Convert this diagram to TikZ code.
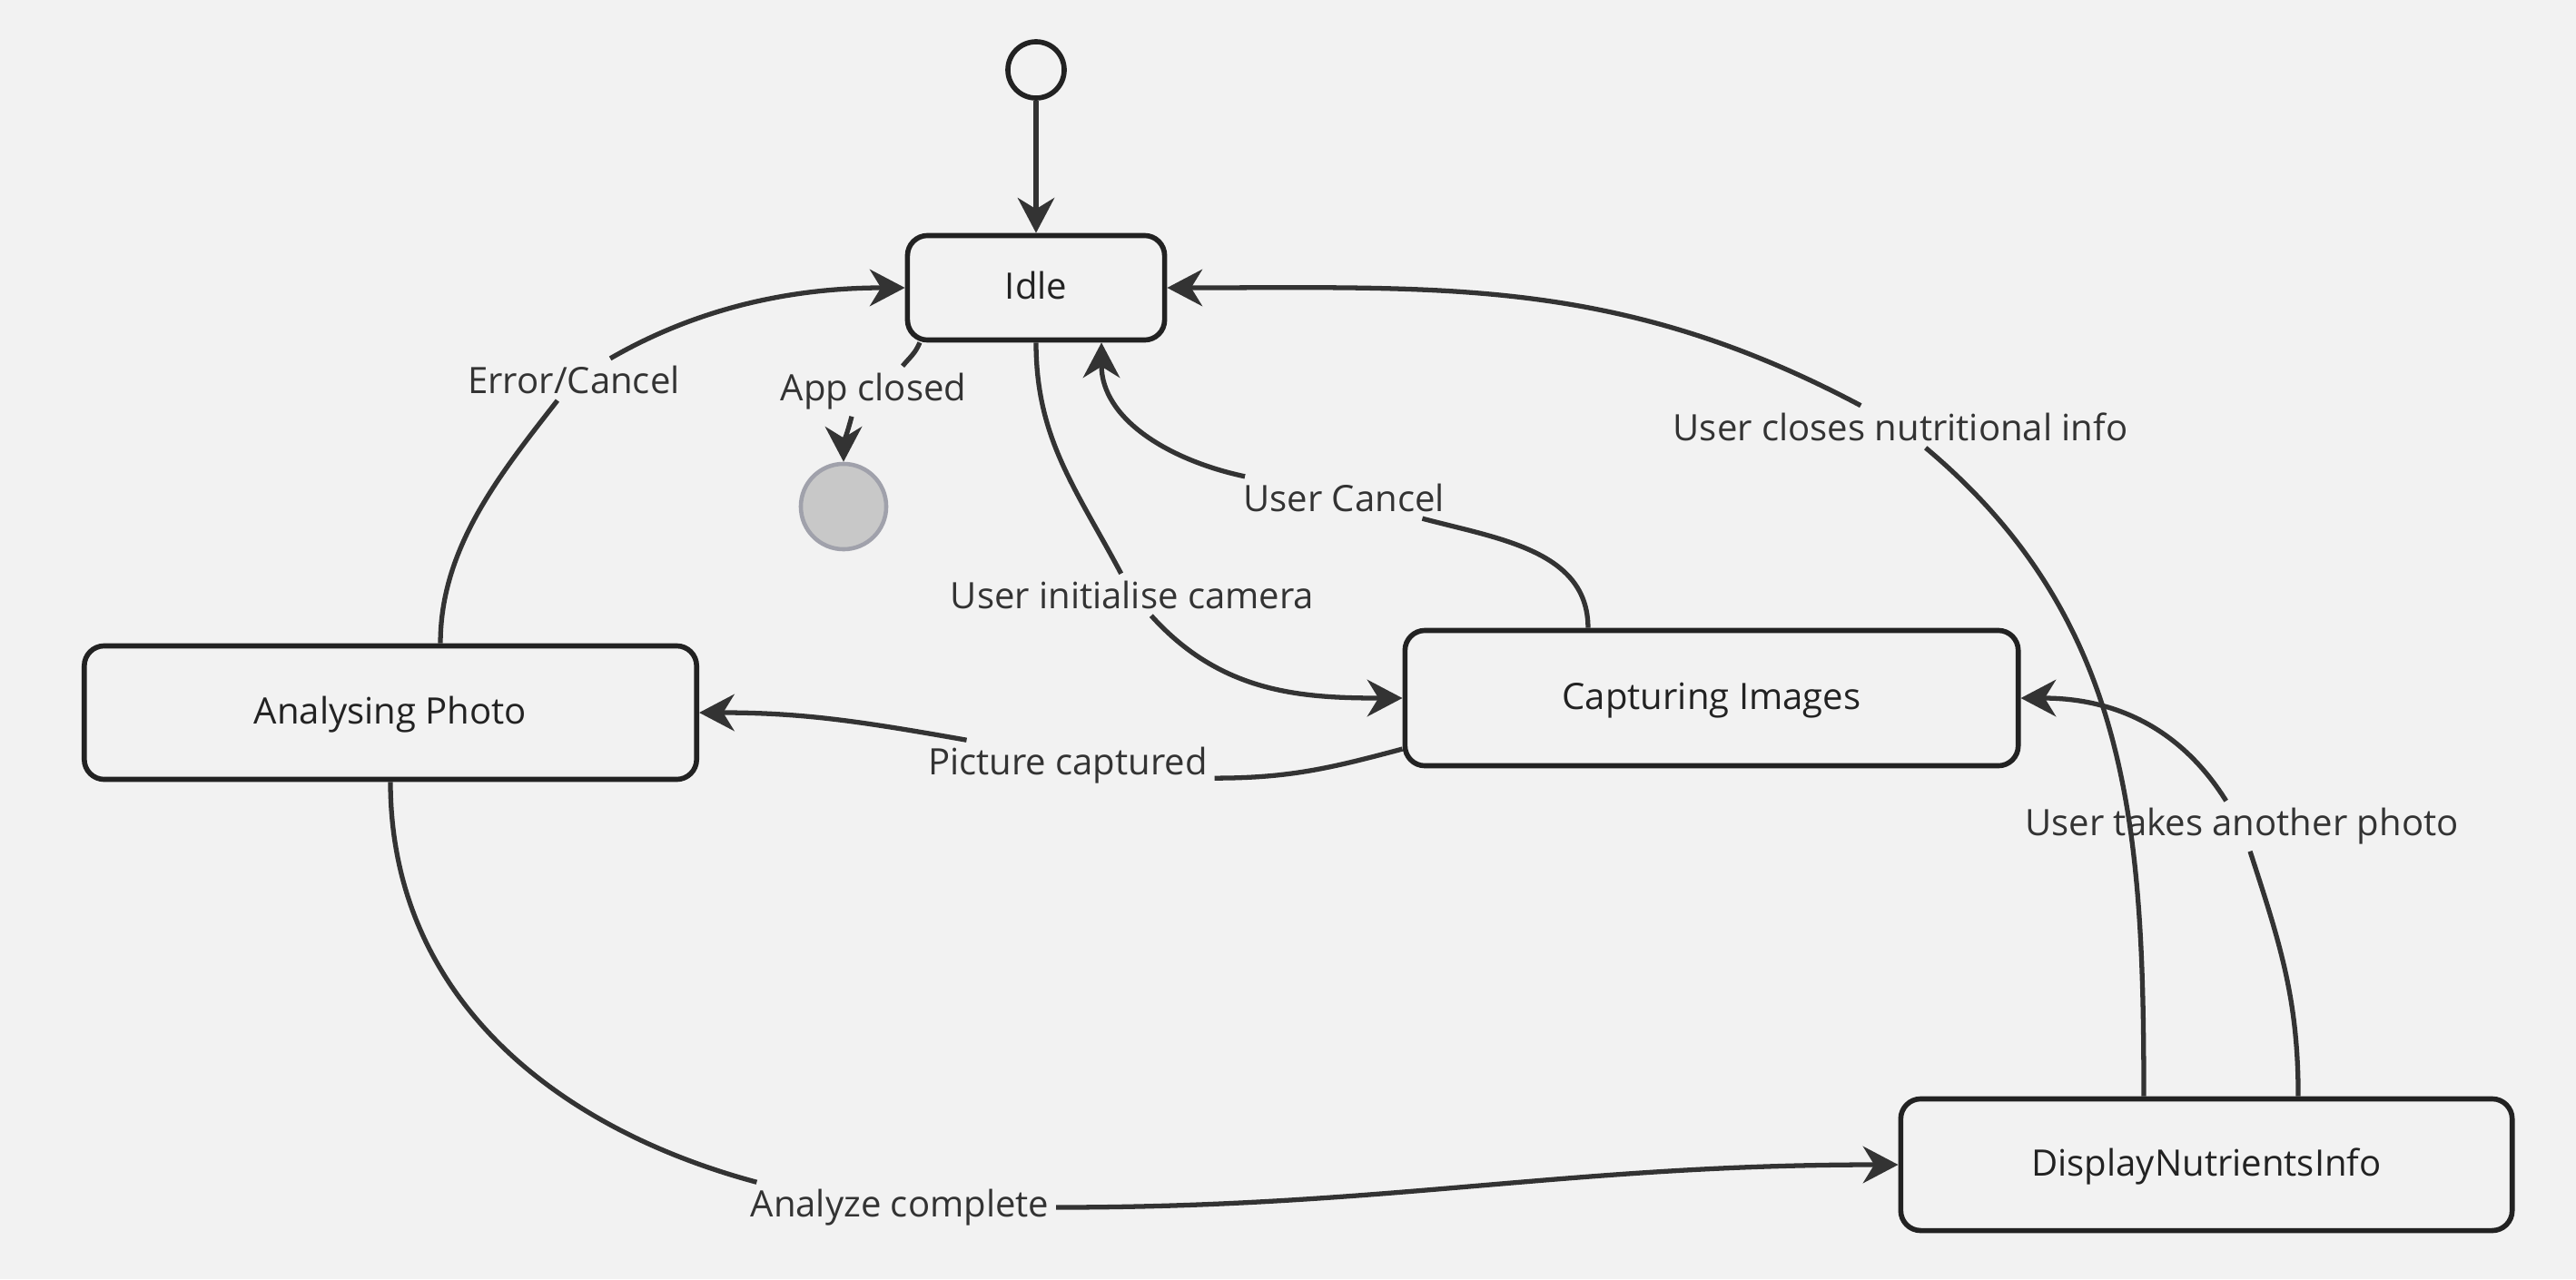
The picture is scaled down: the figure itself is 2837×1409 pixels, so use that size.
\documentclass[tikz,border=0pt]{standalone}
\usepackage{fontspec}
\setmainfont{Open Sans}
\usetikzlibrary{arrows.meta}
\definecolor{bg}{HTML}{F2F2F2}
\definecolor{edgec}{HTML}{333333}
\definecolor{boxline}{HTML}{222222}
\definecolor{endfill}{HTML}{C8C8C8}
\definecolor{endline}{HTML}{A0A1AB}
\begin{document}
\begin{tikzpicture}[x=0.01cm,y=-0.01cm,
  state/.style={draw=boxline, line width=1.6pt, rounded corners=0.22cm, fill=bg, text=boxline, font=\fontsize{11.4}{13}\selectfont, inner sep=0pt, text height=0.72em, text depth=0pt},
  lbl/.style={fill=bg, text=edgec, font=\fontsize{11.4}{13}\selectfont, inner sep=2pt},
  tr/.style={draw=edgec, line width=1.5pt, -{Stealth[length=11pt,width=11.5pt,inset=3.5pt]}},
  seg/.style={draw=edgec, line width=1.5pt}]
\fill[bg] (0,0) rectangle (2837,1409);
\useasboundingbox (0,0) rectangle (2837,1409);

\node[state, minimum width=2.83cm, minimum height=1.15cm] (idle) at (1141,317) {Idle};
\node[state, minimum width=6.74cm, minimum height=1.47cm] (ana) at (430,785) {Analysing Photo};
\node[state, minimum width=6.75cm, minimum height=1.49cm] (cap) at (1885,769) {Capturing Images};
\node[state, minimum width=6.73cm, minimum height=1.45cm] (disp) at (2430,1283) {DisplayNutrientsInfo};
\node[circle, draw=boxline, line width=1.6pt, fill=bg, minimum size=0.62cm, inner sep=0pt] (start) at (1141,77) {};
\node[circle, draw=endline, line width=1.3pt, fill=endfill, minimum size=0.94cm, inner sep=0pt] (endst) at (929,558) {};

\node[lbl] (lTake) at (2469,910) {User takes another photo};
\node[lbl] (lErr) at (632,418) {Error/Cancel};
\node[lbl] (lApp) at (962,431) {App closed};
\node[lbl] (lInit) at (1247,655) {User initialise camera};
\node[lbl] (lCancel) at (1480,548) {User Cancel};
\node[lbl] (lPic) at (1176,843) {Picture captured};
\node[lbl] (lAna) at (991,1330) {Analyze complete};
\node[lbl] (lClose) at (2093,470) {User closes nutritional info};

\draw[tr] (start) -- (idle);
\draw[seg] ([xshift=0.55cm]ana.north) to[out=90,in=-128,looseness=0.9] (lErr);
\draw[tr] (lErr) to[out=30,in=180,looseness=0.9] (idle.west);
\draw[seg] ([xshift=-1.28cm]idle.south) to[out=-112,in=50] ([xshift=0.32cm]lApp.north);
\draw[tr] ([xshift=-0.24cm]lApp.south) to[out=-105,in=90] (endst);
\draw[seg] (idle.south) to[out=-90,in=118] (lInit);
\draw[tr] (lInit) to[out=-48,in=180] (cap.west);
\draw[seg] ([xshift=-1.36cm]cap.north) to[out=90,in=-15] (lCancel);
\draw[tr] (lCancel) to[out=168,in=-90] ([xshift=0.72cm]idle.south);
\draw[seg] ([yshift=-0.56cm]cap.west) to[out=-165,in=0] (lPic.-5);
\draw[tr] (lPic.166) to[out=170,in=0] (ana.east);
\draw[seg] (ana.south) to[out=-90,in=165] (lAna.170);
\draw[tr] (lAna) to[out=0,in=180] (disp.west);
\draw[seg] ([xshift=1.01cm]disp.north) to[out=90,in=-72] (lTake);
\draw[tr] (lTake) to[out=122,in=0] (cap.east);
\draw[seg] ([xshift=-0.69cm]disp.north) to[out=90,in=-40] (lClose);
\draw[tr] (lClose) to[out=152,in=0] (idle.east);
\end{tikzpicture}
\end{document}
